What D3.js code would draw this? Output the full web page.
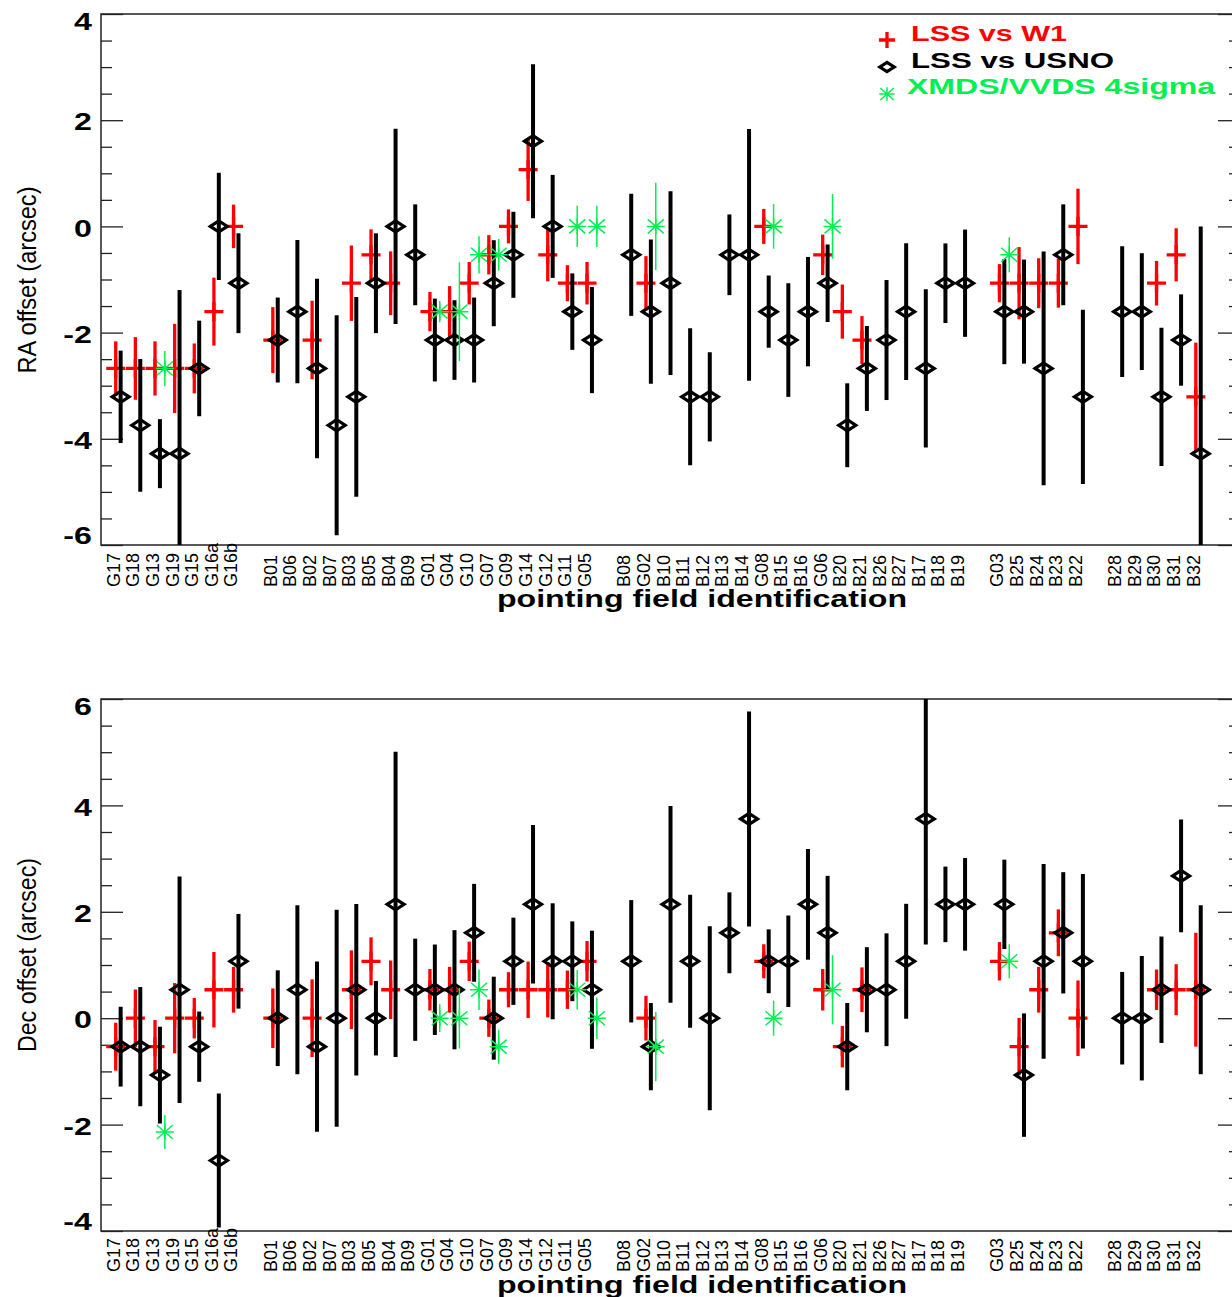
<!DOCTYPE html>
<html>
<head>
<meta charset="utf-8">
<script src="https://cdn.jsdelivr.net/npm/d3@7"></script>
<style>
  body { margin: 0; background: #fff; }
  svg { display: block; }
</style>
</head>
<body>
<div id="chart"></div>
<script>
// field names, one array per group (a blank slot sits between groups)
const fieldGroups = [
  ["G17", "G18", "G13", "G19", "G15", "G16a", "G16b"],
  ["B01", "B06", "B02", "B07", "B03", "B05", "B04", "B09", "G01", "G04", "G10", "G07", "G09", "G14", "G12", "G11", "G05"],
  ["B08", "G02", "B10", "B11", "B12", "B13", "B14", "G08", "B15", "B16", "G06", "B20", "B21", "B26", "B27", "B17", "B18", "B19"],
  ["G03", "B25", "B24", "B23", "B22"],
  ["B28", "B29", "B30", "B31", "B32"]
];

// [offset, error] per field, null = no measurement
const raW1 = [
  [-2.675, 0.51], [-2.675, 0.59], [-2.675, 0.51], [-2.675, 0.84], [-2.675, 0.47], [-1.605, 0.64], [0, 0.41],
  [-2.14, 0.62], null, [-2.14, 0.74], null, [-1.07, 0.71], [-0.535, 0.48], [-1.07, 0.6], null, [-1.605, 0.37], [-1.605, 0.48], [-1.07, 0.4], [-0.535, 0.37], [0, 0.32], [1.07, 0.59], [-0.535, 0.5], [-1.07, 0.34], [-1.07, 0.4],
  null, [-1.07, 0.51], null, null, null, null, null, [0, 0.33], null, null, [-0.535, 0.38], [-1.605, 0.51], [-2.14, 0.45], null, null, null, null, null,
  [-1.07, 0.36], [-1.07, 0.68], [-1.07, 0.47], [-1.07, 0.46], [0, 0.71],
  null, null, [-1.07, 0.42], [-0.535, 0.5], [-3.21, 1.02]
];
const raUsno = [
  [-3.21, 0.87], [-3.745, 1.25], [-4.28, 0.65], [-4.28, 3.08], [-2.675, 0.9], [0, 1.01], [-1.07, 0.94],
  [-2.14, 0.8], [-1.605, 1.35], [-2.675, 1.69], [-3.745, 2.07], [-3.21, 1.88], [-1.07, 0.94], [0, 1.84], [-0.535, 0.95], [-2.14, 0.78], [-2.14, 0.75], [-2.14, 0.8], [-1.07, 0.81], [-0.535, 0.81], [1.605, 1.45], [0, 0.97], [-1.605, 0.72], [-2.14, 1.0],
  [-0.535, 1.15], [-1.605, 1.36], [-1.07, 1.73], [-3.21, 1.29], [-3.21, 0.84], [-0.535, 0.76], [-0.535, 2.37], [-1.605, 0.68], [-2.14, 1.07], [-1.605, 1.03], [-1.07, 0.73], [-3.745, 0.79], [-2.675, 0.8], [-2.14, 1.13], [-1.605, 1.29], [-2.675, 1.49], [-1.07, 0.75], [-1.07, 1.01],
  [-1.605, 0.99], [-1.605, 0.98], [-2.675, 2.2], [-0.535, 0.95], [-3.21, 1.64],
  [-1.605, 1.23], [-1.605, 1.1], [-3.21, 1.3], [-2.14, 0.86], [-4.28, 4.28]
];
const raXmds = [
  null, null, [-2.675, 0.33], null, null, null, null,
  null, null, null, null, null, null, null, null, [-1.605, 0.2], [-1.605, 0.93], [-0.535, 0.35], [-0.535, 0.3], null, null, null, [0, 0.39], [0, 0.39],
  null, [0, 0.82], null, null, null, null, null, [0, 0.42], null, null, [0, 0.61], null, null, null, null, null, null, null,
  [-0.535, 0.33], null, null, null, null,
  null, null, null, null, null
];

const decW1 = [
  [-0.535, 0.45], [0, 0.54], [-0.535, 0.5], [0, 0.66], [0, 0.38], [0.535, 0.71], [0.535, 0.43],
  [0, 0.56], null, [0, 0.73], null, [0.535, 0.74], [1.07, 0.45], [0.535, 0.55], null, [0.535, 0.39], [0.535, 0.43], [1.07, 0.37], [0, 0.35], [0.535, 0.33], [0.535, 0.53], [0.535, 0.52], [0.535, 0.36], [1.07, 0.38],
  null, [0, 0.42], null, null, null, null, null, [1.07, 0.32], null, null, [0.535, 0.39], [-0.535, 0.39], [0.535, 0.42], null, null, null, null, null,
  [1.07, 0.36], [-0.535, 0.54], [0.535, 0.43], [1.605, 0.44], [0, 0.71],
  null, null, [0.535, 0.38], [0.535, 0.48], [0.535, 1.07]
];
const decUsno = [
  [-0.535, 0.75], [-0.535, 1.12], [-1.07, 0.91], [0.535, 2.13], [-0.535, 0.66], [-2.675, 1.26], [1.07, 0.89],
  [0, 0.9], [0.535, 1.59], [-0.535, 1.6], [0, 2.04], [0.535, 1.61], [0, 0.7], [2.14, 2.87], [0.535, 0.96], [0.535, 0.85], [0.535, 1.12], [1.605, 0.92], [0, 0.78], [1.07, 0.82], [2.14, 1.49], [1.07, 1.09], [1.07, 0.75], [0.535, 1.11],
  [1.07, 1.15], [-0.535, 0.82], [2.14, 1.85], [1.07, 1.25], [0, 1.73], [1.605, 0.76], [3.745, 2.02], [1.07, 0.6], [1.07, 0.86], [2.14, 1.04], [1.605, 1.07], [-0.535, 0.82], [0.535, 0.8], [0.535, 1.06], [1.07, 1.08], [3.745, 2.36], [2.14, 0.71], [2.14, 0.87],
  [2.14, 0.84], [-1.07, 1.16], [1.07, 1.83], [1.605, 1.14], [1.07, 1.64],
  [0, 0.87], [0, 1.17], [0.535, 1.0], [2.675, 1.06], [0.535, 1.59]
];
const decXmds = [
  null, null, [-2.14, 0.32], null, null, null, null,
  null, null, null, null, null, null, null, null, [0, 0.26], [0, 0.57], [0.535, 0.38], [-0.535, 0.32], null, null, null, [0.535, 0.37], [0, 0.39],
  null, [-0.535, 0.65], null, null, null, null, null, [0, 0.33], null, null, [0.535, 0.65], null, null, null, null, null, null, null,
  [1.07, 0.32], null, null, null, null,
  null, null, null, null, null
];

const legendLabels = ["LSS vs W1", "LSS vs USNO", "XMDS/VVDS 4sigma"];

const FONT = "'Liberation Sans', Arial, Helvetica, sans-serif";
const RED = "#ff0000", BLACK = "#000000", GREEN = "#00f050";

const svg = d3.select("#chart").append("svg")
  .attr("width", 1232)
  .attr("height", 1297);

// slot index per field, with one empty slot between groups
const slots = [];
let s = 0;
fieldGroups.forEach((grp, gi) => {
  if (gi > 0) s++;
  grp.forEach(name => { slots.push({ name: name, slot: s }); s++; });
});

const x = d3.scaleLinear().domain([0, 58]).range([101, 1240]);

const symbolPath = {
  plus: "M-9.5,0H9.5M0,-9.5V9.5",
  diamond: "M-8.5,0L0,-5.5L8.5,0L0,5.5Z",
  star: "M-9,0H9M0,-8V8M-8,-7L8,7M-8,7L8,-7"
};

const seriesStyle = [
  { key: "w1", color: RED, off: 0.75, bar: 3.3, sym: "plus", symWidth: 3.3 },
  { key: "usno", color: BLACK, off: 1.0, bar: 4, sym: "diamond", symWidth: 3.2 },
  { key: "xmds", color: GREEN, off: 1.25, bar: 1.5, sym: "star", symWidth: 1.5 }
];

const panels = [
  { top: 14, bottom: 545, domain: [-6, 4], title: "RA offset (arcsec)", titleY: 280, titleLen: 187,
    labelBase: 587, titleBase: 607, w1: raW1, usno: raUsno, xmds: raXmds, legend: true },
  { top: 699, bottom: 1231, domain: [-4, 6], title: "Dec offset (arcsec)", titleY: 955, titleLen: 194,
    labelBase: 1272, titleBase: 1293, w1: decW1, usno: decUsno, xmds: decXmds, legend: false }
];

function drawPanel(p, idx) {
  const y = d3.scaleLinear().domain(p.domain).range([p.bottom, p.top]);
  const g = svg.append("g");

  svg.append("clipPath").attr("id", "clip" + idx)
    .append("rect")
    .attr("x", x(0)).attr("y", p.top)
    .attr("width", x(58) - x(0)).attr("height", p.bottom - p.top);

  // ticks, IDL style: inside on both sides
  const major = d3.range(p.domain[0], p.domain[1] + 0.01, 2);
  const minor = d3.range(p.domain[0], p.domain[1] + 0.01, 0.5).filter(v => !major.includes(v));
  const tickLayers = [
    [d3.axisLeft(y).tickValues(major).tickSize(-22), x(0)],
    [d3.axisLeft(y).tickValues(minor).tickSize(-11), x(0)],
    [d3.axisRight(y).tickValues(major).tickSize(-22), x(58)],
    [d3.axisRight(y).tickValues(minor).tickSize(-11), x(58)]
  ];
  tickLayers.forEach(([ax, xp]) => {
    g.append("g")
      .attr("transform", `translate(${xp},0)`)
      .call(ax.tickFormat("").tickSizeOuter(0))
      .call(a => a.select(".domain").remove())
      .call(a => a.selectAll("line").attr("stroke", "#222").attr("stroke-width", 1.3));
  });

  g.append("rect")
    .attr("x", x(0)).attr("y", p.top)
    .attr("width", x(58) - x(0)).attr("height", p.bottom - p.top)
    .attr("fill", "none").attr("stroke", "#222").attr("stroke-width", 1.5);

  // y tick labels (plain hyphen minus, as in the original)
  g.selectAll("text.ylab").data(major).join("text")
    .attr("class", "ylab")
    .attr("transform", v => {
      const cy = Math.max(p.top + 8, Math.min(p.bottom - 9, y(v) + 2));
      return `translate(92,${cy}) scale(1.4,1)`;
    })
    .attr("dy", "0.36em")
    .attr("text-anchor", "end")
    .style("font-family", FONT)
    .style("font-weight", "bold")
    .style("font-size", "23px")
    .text(v => String(v));

  // y title
  g.append("text")
    .attr("transform", `translate(36,${p.titleY}) rotate(-90)`)
    .attr("text-anchor", "middle")
    .attr("textLength", p.titleLen)
    .attr("lengthAdjust", "spacingAndGlyphs")
    .style("font-family", FONT)
    .style("font-size", "25px")
    .text(p.title);

  // x tick labels
  g.selectAll("text.xlab").data(slots).join("text")
    .attr("class", "xlab")
    .attr("transform", d => `translate(${x(d.slot + 1) - 1},${p.labelBase}) rotate(-90)`)
    .attr("text-anchor", "start")
    .style("font-family", FONT)
    .style("font-size", "18px")
    .text(d => d.name);

  // x title
  g.append("text")
    .attr("x", 702).attr("y", p.titleBase)
    .attr("text-anchor", "middle")
    .attr("textLength", 410)
    .attr("lengthAdjust", "spacingAndGlyphs")
    .style("font-family", FONT)
    .style("font-weight", "bold")
    .style("font-size", "23px")
    .text("pointing field identification");

  // data
  const marks = g.append("g").attr("clip-path", `url(#clip${idx})`);
  seriesStyle.forEach(st => {
    const pts = slots.map((sl, i) => ({ slot: sl.slot, d: p[st.key][i] })).filter(o => o.d);
    const layer = marks.append("g");
    layer.selectAll("line").data(pts).join("line")
      .attr("x1", o => x(o.slot + st.off))
      .attr("x2", o => x(o.slot + st.off))
      .attr("y1", o => y(o.d[0] - o.d[1]))
      .attr("y2", o => y(o.d[0] + o.d[1]))
      .attr("stroke", st.color)
      .attr("stroke-width", st.bar);
    layer.selectAll("path").data(pts).join("path")
      .attr("transform", o => `translate(${x(o.slot + st.off)},${y(o.d[0])})`)
      .attr("d", symbolPath[st.sym])
      .attr("fill", "none")
      .attr("stroke", st.color)
      .attr("stroke-width", st.symWidth);
  });

  if (p.legend) {
    const leg = g.append("g");
    const rows = [
      { st: seriesStyle[0], sy: 40, ty: 41, tx: 911, len: 156 },
      { st: seriesStyle[1], sy: 67, ty: 68, tx: 911, len: 203 },
      { st: seriesStyle[2], sy: 94, ty: 94, tx: 907, len: 308 }
    ];
    rows.forEach((r, i) => {
      leg.append("path")
        .attr("transform", `translate(887,${r.sy}) scale(0.85)`)
        .attr("d", symbolPath[r.st.sym])
        .attr("fill", "none")
        .attr("stroke", r.st.color)
        .attr("stroke-width", r.st.symWidth / 0.85);
      leg.append("text")
        .attr("x", r.tx).attr("y", r.ty)
        .attr("textLength", r.len)
        .attr("lengthAdjust", "spacingAndGlyphs")
        .attr("fill", r.st.color)
        .style("font-family", FONT)
        .style("font-weight", "bold")
        .style("font-size", "22px")
        .text(legendLabels[i]);
    });
  }
}

panels.forEach(drawPanel);
</script>
</body>
</html>
